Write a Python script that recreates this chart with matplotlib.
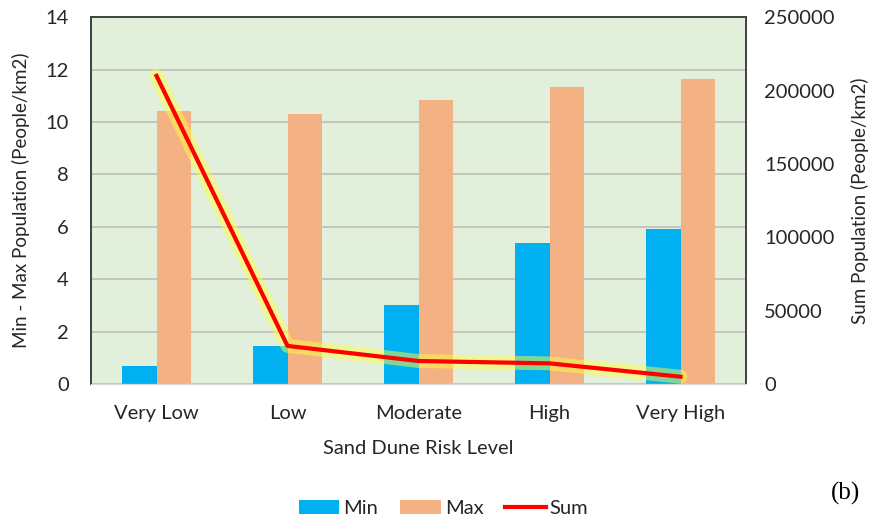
import matplotlib.pyplot as plt
import numpy as np

# Colours
COLOR_MIN = '#00B0F0'
COLOR_MAX = '#F4B183'
COLOR_SUM = '#FF0000'
COLOR_GLOW = '#FFFF40'
COLOR_BG = '#E2EFDA'
TEXT = '#262626'

# Data
levels = ['Very Low', 'Low', 'Moderate', 'High', 'Very High']
min_pop = [0.7, 1.45, 3.0, 5.4, 5.9]
max_pop = [10.4, 10.3, 10.85, 11.35, 11.65]
sum_pop = [210000, 26000, 15700, 14100, 5000]

plt.rcParams['font.family'] = ['Lato', 'DejaVu Sans']

fig = plt.figure(figsize=(8.7, 5.19), dpi=100)
ax = fig.add_axes([0.1046, 0.260, 0.7529, 0.707])
ax.set_facecolor(COLOR_BG)

x = np.arange(len(levels))
w = 0.26
ax.bar(x - w / 2, min_pop, width=w, color=COLOR_MIN, label='Min', zorder=2)
ax.bar(x + w / 2, max_pop, width=w, color=COLOR_MAX, label='Max', zorder=2)

ax.set_xlim(-0.5, len(levels) - 0.5)
ax.set_ylim(0, 14)
ax.set_yticks(np.arange(0, 15, 2))
ax.yaxis.grid(True, color='#BDBDBD', linewidth=1.2, zorder=0)
ax.set_axisbelow(True)
ax.set_xticks(x)
ax.set_xticklabels(levels)
ax.tick_params(axis='both', length=0, labelsize=14.5, colors=TEXT)
ax.tick_params(axis='y', pad=16)
ax.tick_params(axis='x', pad=15)
ax.set_ylabel('Min - Max Population (People/km2)', fontsize=13.5, color=TEXT, labelpad=11)
ax.set_xlabel('Sand Dune Risk Level', fontsize=14.5, color=TEXT, labelpad=13)

# Sum on the secondary axis
ax2 = ax.twinx()
ax2.plot(x, sum_pop, color=COLOR_GLOW, linewidth=10, alpha=0.5, solid_capstyle='round', zorder=3)
ax2.plot(x, sum_pop, color=COLOR_SUM, linewidth=3, label='Sum', zorder=4)
ax2.set_ylim(0, 250000)
ax2.set_yticks(np.arange(0, 250001, 50000))
ax2.tick_params(axis='y', length=0, labelsize=14.5, colors=TEXT, pad=13)
ax2.set_ylabel('Sum Population (People/km2)', fontsize=13.5, color=TEXT, labelpad=12)

for a in (ax, ax2):
    for side in ('left', 'right', 'top'):
        a.spines[side].set_color('#404040')
        a.spines[side].set_linewidth(1.2)
    a.spines['bottom'].set_color('#D9D9D9')

handles = ax.get_legend_handles_labels()[0] + ax2.get_legend_handles_labels()[0]
labels = ['Min', 'Max', 'Sum']
fig.legend(handles, labels, loc='center', bbox_to_anchor=(0.51, 0.021), ncol=3,
           frameon=False, fontsize=14.5, handlelength=2.0, handletextpad=0.2,
           columnspacing=1.1, labelcolor=TEXT)

fig.text(0.989, 0.05, '(b)', fontsize=18, family='Liberation Serif', ha='right', va='center')

plt.savefig('out.png', dpi=100)
plt.close()
